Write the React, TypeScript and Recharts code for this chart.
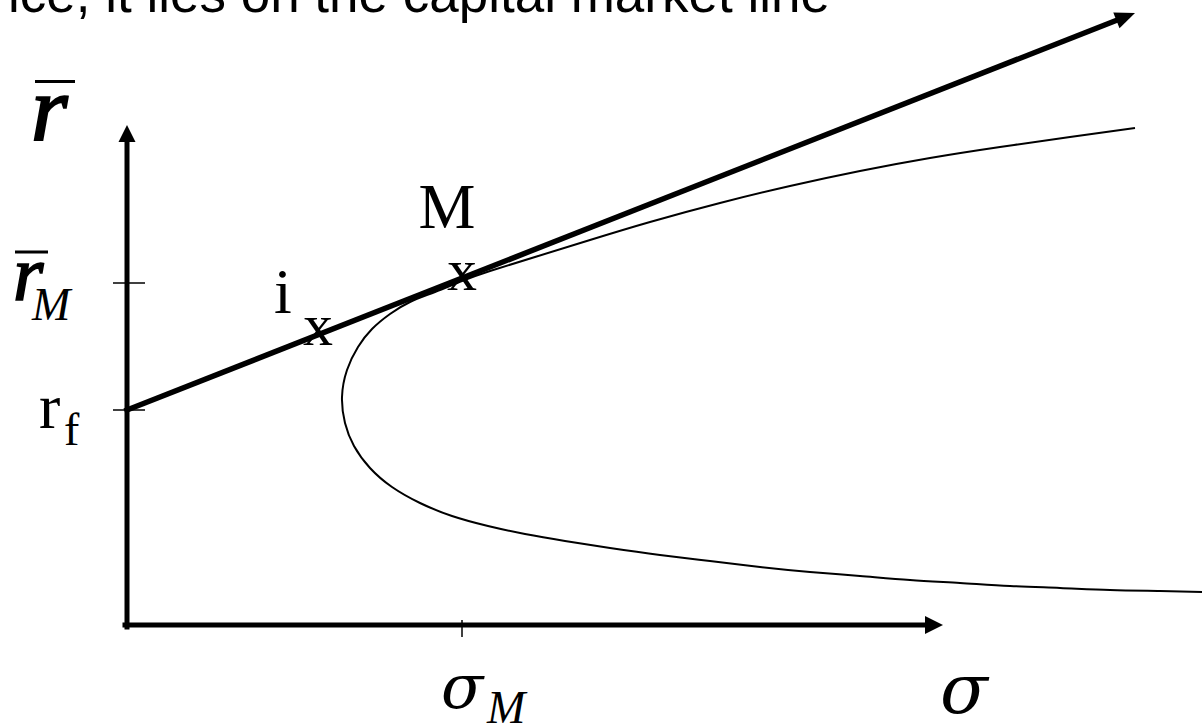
import React from 'react'
import { ComposedChart, XAxis, YAxis, Line, Scatter, ReferenceLine, ReferenceDot } from 'recharts'

// Efficient frontier (sigma, expected return), ordered along the curve
const frontierSigma = [
  100.8, 94.3, 87.3, 80.3, 73.3, 66.3, 59.3, 52.3, 46.3, 40.8, 36.3, 33.5, 30.8, 28.3, 26.3, 24.5, 23.1, 22.0, 21.5,
  21.8, 22.7, 24.3, 26.5, 29.3, 32.5, 36.1, 39.8, 43.8, 48.3, 53.3, 58.3, 63.3, 68.3, 73.3, 78.3, 83.3, 88.3, 93.3, 98.3, 103.3, 107.5,
]
const frontierReturn = [
  49.7, 48.8, 47.8, 46.7, 45.4, 43.9, 42.2, 40.3, 38.5, 36.8, 35.4, 34.4, 33.3, 32.3, 31.1, 29.6, 27.8, 25.5, 22.8,
  20.2, 17.9, 15.7, 13.8, 12.2, 10.9, 9.9, 9.1, 8.4, 7.7, 7.0, 6.4, 5.8, 5.3, 4.9, 4.5, 4.2, 3.9, 3.7, 3.5, 3.4, 3.3,
]

// Capital market line: starts at r_f, ends at the arrow tip
const cmlSigma = [0, 100.8]
const cmlReturn = [21.5, 61.2]

const portfolioNames = ['i', 'M']
const portfolioSigma = [19.1, 33.5]
const portfolioReturn = [29.0, 34.5]

const riskFree = 21.5
const marketSigma = 33.5
const marketReturn = 34.2
const yAxisTop = 50.0
const xAxisEnd = 81.6

const title = 'ice, it lies on the capital market line'

const frontierData = frontierSigma.map((s, i) => ({ sigma: s, r: frontierReturn[i] }))
const portfolioData = portfolioNames.map((n, i) => ({ name: n, sigma: portfolioSigma[i], r: portfolioReturn[i] }))

const SERIF = '"Liberation Serif", "Times New Roman", serif'
const GREEK = '"DejaVu Serif", "Liberation Serif", serif'

// line with a filled arrow head at (x2, y2)
const arrow = (width: number, headLen: number, headW: number) => (props: any) => {
  const { x1, y1, x2, y2 } = props
  const len = Math.hypot(x2 - x1, y2 - y1)
  const ux = (x2 - x1) / len
  const uy = (y2 - y1) / len
  const bx = x2 - ux * headLen
  const by = y2 - uy * headLen
  const px = -uy * headW / 2
  const py = ux * headW / 2
  return (
    <g>
      <line x1={x1} y1={y1} x2={bx + ux} y2={by + uy} stroke="#000" strokeWidth={width} strokeLinecap="square" />
      <polygon points={`${x2},${y2} ${bx + px},${by + py} ${bx - px},${by - py}`} fill="#000" />
    </g>
  )
}

const plainLine = (width: number) => (props: any) => (
  <line x1={props.x1} y1={props.y1} x2={props.x2} y2={props.y2} stroke="#000" strokeWidth={width} />
)

type Part = { t: string; dx: number; dy: number; size: number; italic?: boolean; font?: string; heavy?: number; bar?: [number, number, number] }

// text placed relative to a data point
const label = (parts: Part[]) => (props: any) => {
  const { cx, cy } = props
  return (
    <g>
      {parts.map((p, i) => (
        <g key={i}>
          <text x={cx + p.dx} y={cy + p.dy} fontFamily={p.font || SERIF} fontSize={p.size}
            fontStyle={p.italic ? 'italic' : 'normal'} fill="#000"
            stroke={p.heavy ? '#000' : 'none'} strokeWidth={p.heavy || 0}>
            {p.t}
          </text>
          {p.bar && <line x1={cx + p.bar[0]} x2={cx + p.bar[1]} y1={cy + p.bar[2]} y2={cy + p.bar[2]} stroke="#000" strokeWidth={3} />}
        </g>
      ))}
    </g>
  )
}

const portfolioShape = (props: any) => {
  const { cx, cy, payload } = props
  const isM = payload.name === 'M'
  return (
    <g>
      <text x={cx} y={cy + 10} textAnchor="middle" fontFamily={SERIF} fontSize={60} fill="#000">x</text>
      <text x={cx + (isM ? -15 : -35)} y={cy + (isM ? -52 : -22)} textAnchor="middle" fontFamily={SERIF} fontSize={64} fill="#000">
        {payload.name}
      </text>
    </g>
  )
}

export default function App() {
  return (
    <div style={{ position: 'absolute', left: 0, top: 0, width: 1202, height: 725, background: '#fff' }}>
      <ComposedChart width={1202} height={725} margin={{ top: 0, right: 0, bottom: 0, left: 0 }}>
        <XAxis type="number" dataKey="sigma" domain={[-12.7, 107.5]} hide allowDataOverflow />
        <YAxis type="number" dataKey="r" domain={[-10, 62.5]} hide allowDataOverflow />

        {/* axes */}
        <ReferenceLine segment={[{ x: 0, y: -0.2 }, { x: 0, y: yAxisTop }]} ifOverflow="visible" shape={arrow(5, 17, 17)} />
        <ReferenceLine segment={[{ x: -0.2, y: 0 }, { x: xAxisEnd, y: 0 }]} ifOverflow="visible" shape={arrow(5, 18, 18)} />

        {/* ticks */}
        <ReferenceLine segment={[{ x: -1.4, y: marketReturn }, { x: 1.8, y: marketReturn }]} ifOverflow="visible" shape={plainLine(1.5)} />
        <ReferenceLine segment={[{ x: -1.4, y: riskFree }, { x: 1.8, y: riskFree }]} ifOverflow="visible" shape={plainLine(1.5)} />
        <ReferenceLine segment={[{ x: marketSigma, y: 0.5 }, { x: marketSigma, y: -1.2 }]} ifOverflow="visible" shape={plainLine(1.5)} />

        <Line data={frontierData} dataKey="r" type="natural" stroke="#000" strokeWidth={2} dot={false} isAnimationActive={false} />

        <ReferenceLine segment={[{ x: cmlSigma[0], y: cmlReturn[0] }, { x: cmlSigma[1], y: cmlReturn[1] }]} ifOverflow="visible" shape={arrow(5.5, 20, 17)} />

        <Scatter data={portfolioData} dataKey="r" shape={portfolioShape} isAnimationActive={false} />

        {/* axis labels */}
        <ReferenceDot x={0} y={yAxisTop} r={0} ifOverflow="visible"
          shape={label([{ t: 'r', dx: -96, dy: 15, size: 94, italic: true, heavy: 2, bar: [-92, -52, -43.5] }])} />
        <ReferenceDot x={0} y={marketReturn} r={0} ifOverflow="visible"
          shape={label([
            { t: 'r', dx: -114, dy: 17, size: 78, italic: true, heavy: 1.6, bar: [-112, -79, -31] },
            { t: 'M', dx: -95, dy: 37, size: 46, italic: true },
          ])} />
        <ReferenceDot x={0} y={riskFree} r={0} ifOverflow="visible"
          shape={label([
            { t: 'r', dx: -88, dy: 18, size: 64 },
            { t: 'f', dx: -63, dy: 35, size: 46 },
          ])} />
        <ReferenceDot x={marketSigma} y={0} r={0} ifOverflow="visible"
          shape={label([
            { t: 'σ', dx: -21, dy: 83, size: 62, italic: true, font: GREEK },
            { t: 'M', dx: 25, dy: 98, size: 46, italic: true },
          ])} />
        <ReferenceDot x={xAxisEnd} y={0} r={0} ifOverflow="visible"
          shape={label([{ t: 'σ', dx: -3, dy: 88, size: 70, italic: true, font: GREEK }])} />
      </ComposedChart>
      <svg width={1202} height={60} style={{ position: 'absolute', left: 0, top: 0 }}>
        <text x={8} y={12} fontFamily='"Liberation Sans", Arial, sans-serif' fontSize={53} fill="#000">{title}</text>
      </svg>
    </div>
  )
}
